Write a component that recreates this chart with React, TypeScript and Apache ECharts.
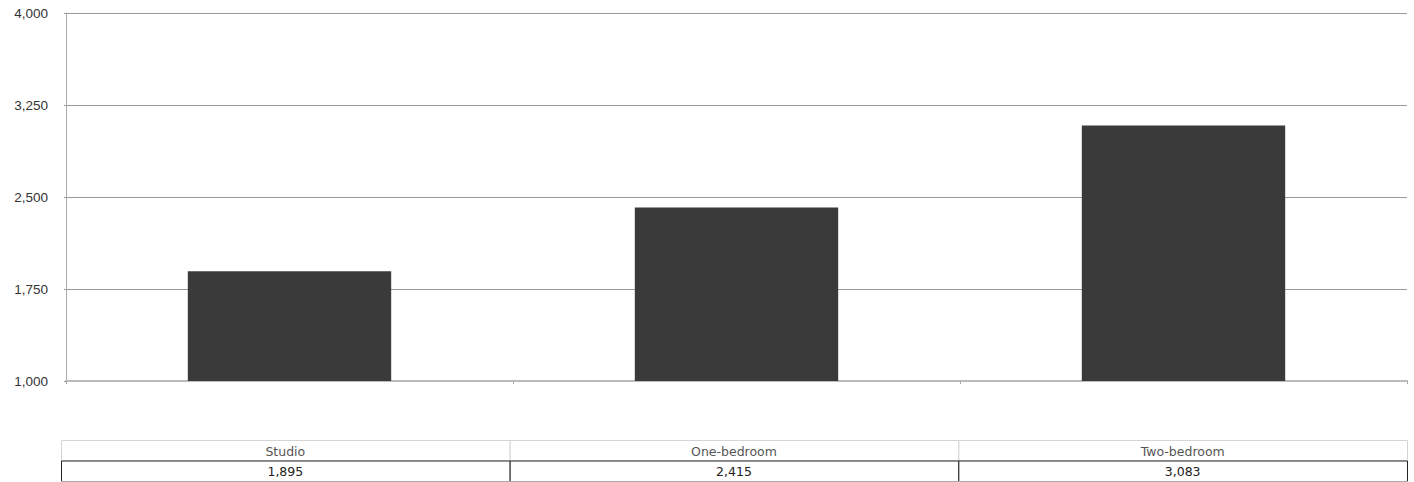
import React, { useEffect, useRef } from "react";
import * as echarts from "echarts";

const categories = ["Studio", "One-bedroom", "Two-bedroom"];
const rentValues = [1895, 2415, 3083];
const yMin = 1000;
const yMax = 4000;
const yInterval = 750;

const fmt = (v: number) => v.toLocaleString("en-US");

export default function App() {
  const ref = useRef<HTMLDivElement>(null);
  useEffect(() => {
    if (!ref.current) return;
    const chart = echarts.init(ref.current, null, { renderer: "svg" });
    const tableLeft = 61;
    const tableRight = 1407;
    const colW = (tableRight - tableLeft) / categories.length;
    const headTop = 440;
    const rowH = 20.5;
    const font = "Liberation Sans, Arial, sans-serif";
    const tableFont = "DejaVu Sans, sans-serif";
    const elements: any[] = [];
    categories.forEach((c, i) => {
      const x = tableLeft + i * colW;
      elements.push({
        type: "rect",
        shape: { x: x + 0.5, y: headTop + 0.5, width: colW, height: rowH },
        style: { fill: "#fff", stroke: "#d4d4d4", lineWidth: 1 },
        z: 1,
      });
      elements.push({
        type: "text",
        x: x + colW / 2,
        y: headTop + rowH / 2 + 1,
        style: { text: c, fill: "#555", font: `12.5px ${tableFont}`, align: "center", verticalAlign: "middle" },
        z: 3,
      });
      elements.push({
        type: "rect",
        shape: { x: x + 0.5, y: headTop + rowH + 0.5, width: colW, height: rowH },
        style: { fill: "#fff", stroke: "#222", lineWidth: 1 },
        z: 2,
      });
      elements.push({
        type: "text",
        x: x + colW / 2,
        y: headTop + rowH * 1.5 + 1,
        style: { text: fmt(rentValues[i]), fill: "#222", font: `12.5px ${tableFont}`, align: "center", verticalAlign: "middle" },
        z: 3,
      });
    });
    elements.push({
      type: "line",
      shape: { x1: tableLeft, y1: headTop + rowH * 2 + 0.5, x2: tableRight + 1, y2: headTop + rowH * 2 + 0.5 },
      style: { stroke: "#aaa", lineWidth: 1 },
      z: 4,
    });
    chart.setOption({
      animation: false,
      grid: { left: 66, right: 7, top: 13, bottom: 101, containLabel: false },
      xAxis: {
        type: "category",
        data: categories,
        axisLine: { show: true, lineStyle: { color: "#bbb", width: 2 } },
        axisTick: { show: true, alignWithLabel: false, length: 3, lineStyle: { color: "#aaa" } },
        axisLabel: { show: false },
      },
      yAxis: {
        type: "value",
        min: yMin,
        max: yMax,
        interval: yInterval,
        axisLine: { show: true, lineStyle: { color: "#aaa" } },
        axisTick: { show: true, length: 2, lineStyle: { color: "#999" } },
        axisLabel: {
          color: "#333",
          fontSize: 13.5,
          fontFamily: font,
          margin: 18,
          formatter: (v: number) => fmt(v),
        },
        splitLine: { show: true, lineStyle: { color: "#999", width: 1 } },
      },
      series: [
        {
          type: "bar",
          data: rentValues,
          barWidth: "45.5%",
          itemStyle: { color: "#3a3a3a" },
          silent: true,
        },
      ],
      graphic: { elements },
    });
    return () => chart.dispose();
  }, []);
  return <div ref={ref} style={{ width: 1414, height: 482, position: "absolute", left: 0, top: 0 }} />;
}
